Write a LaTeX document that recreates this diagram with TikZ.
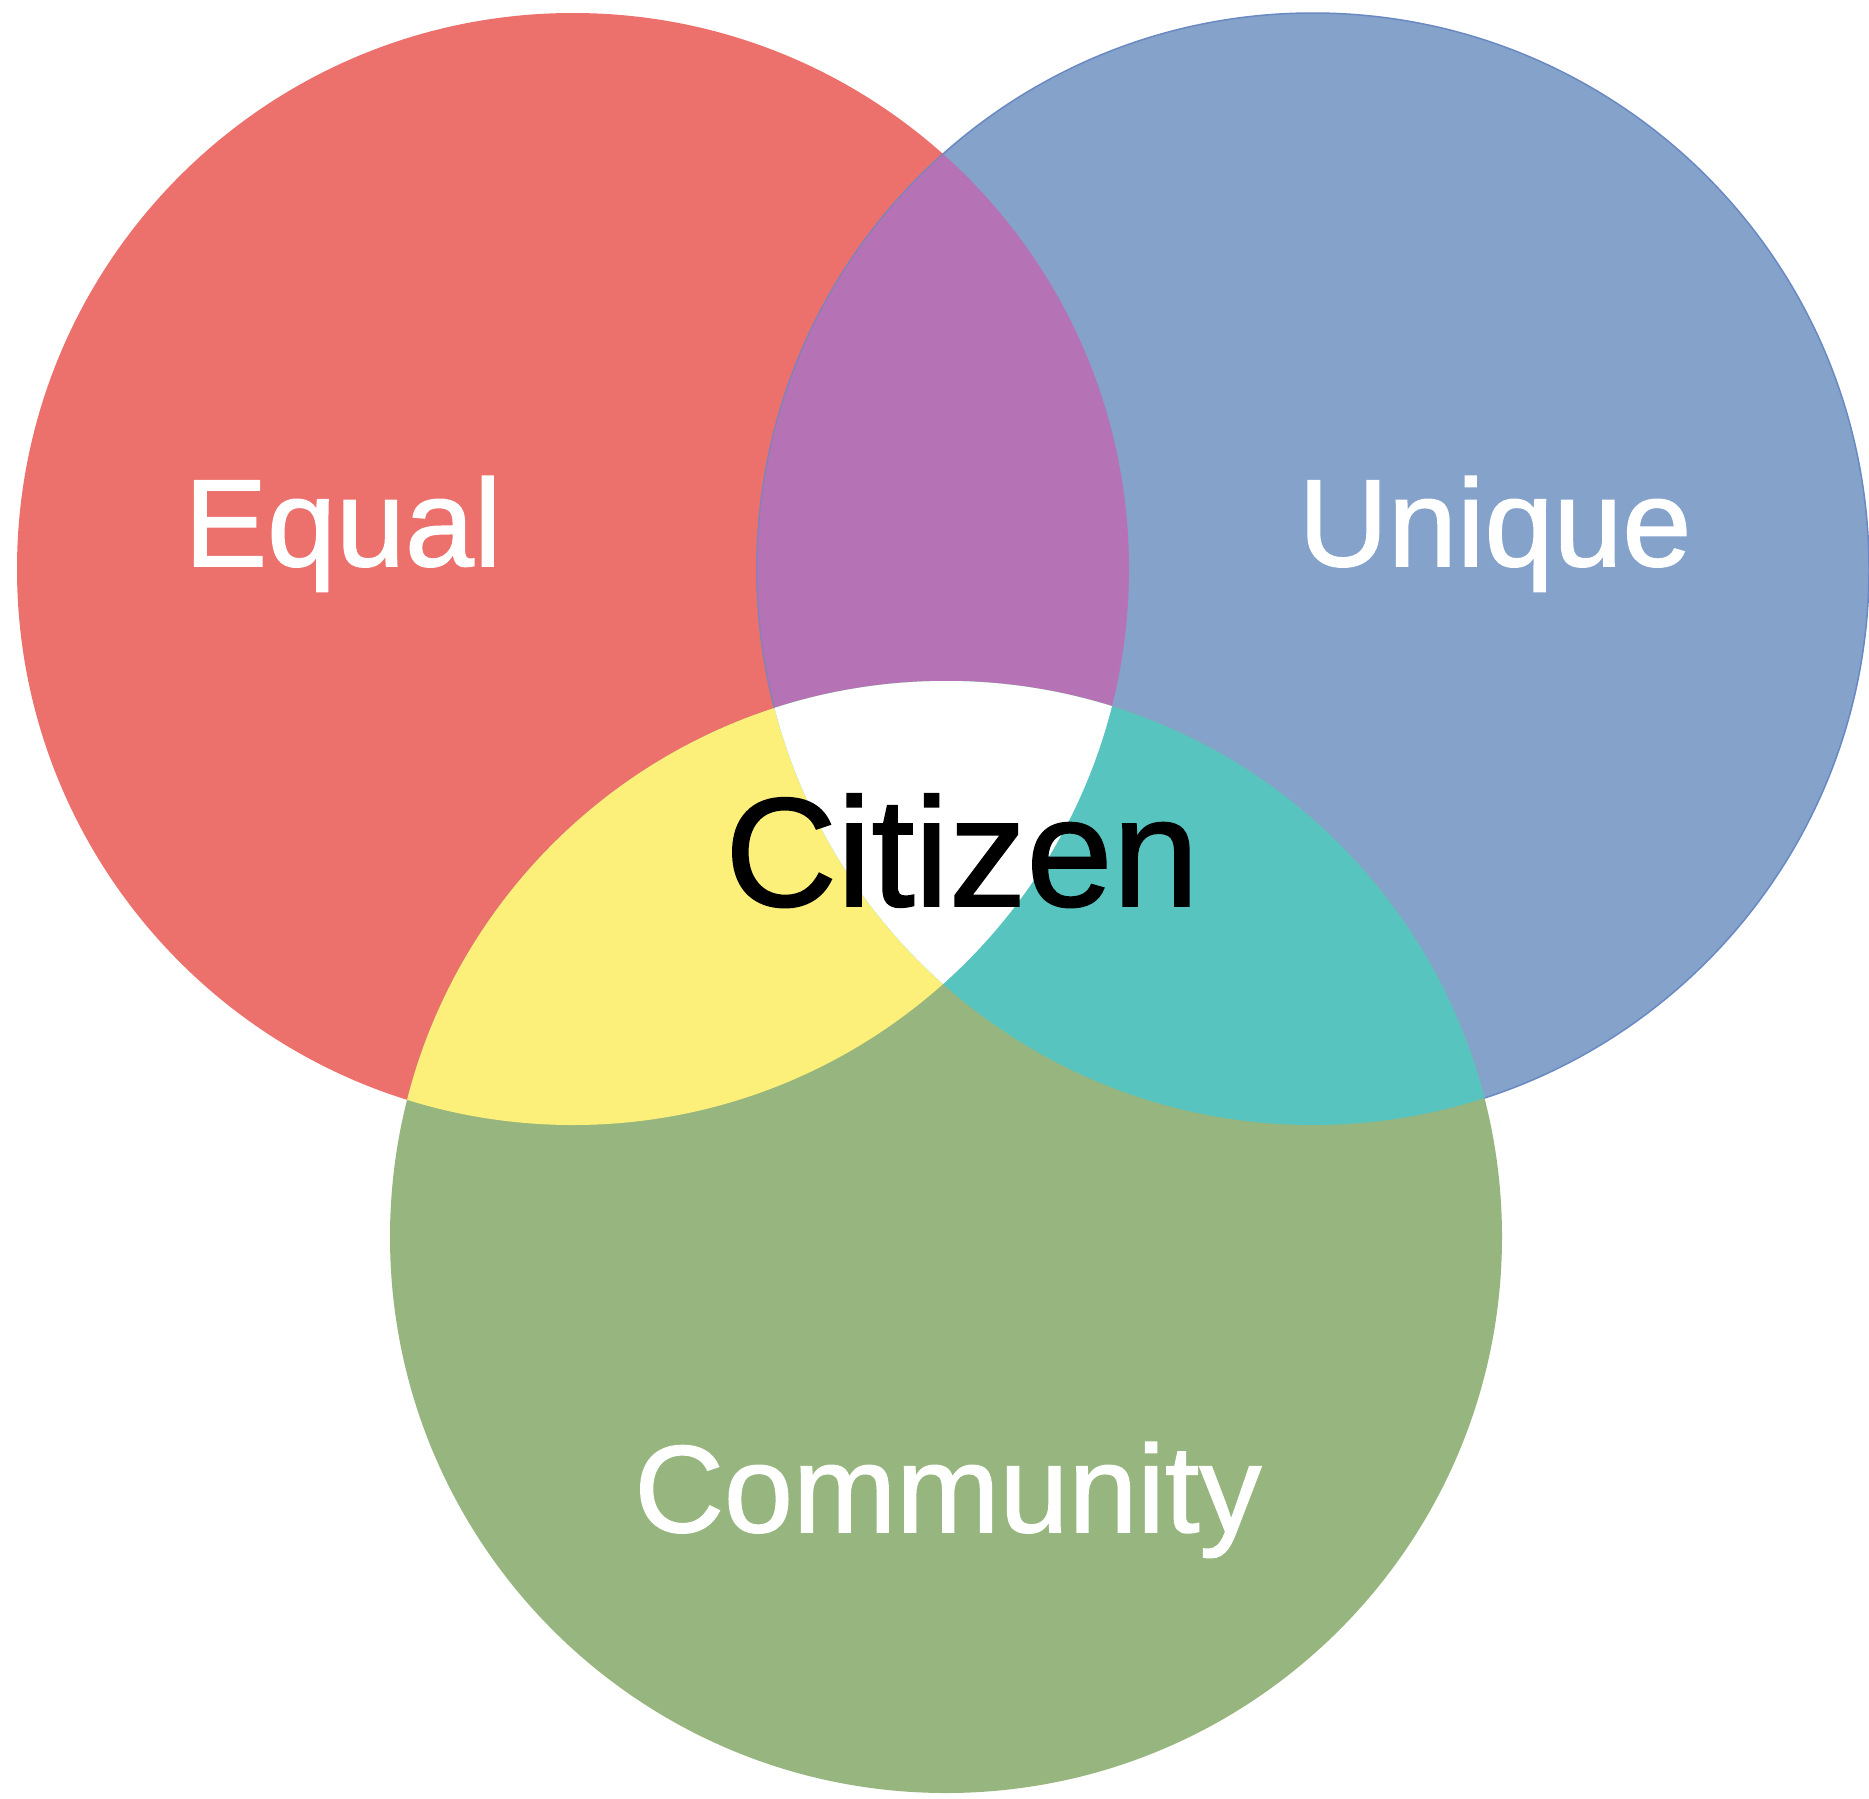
\documentclass[tikz,border=0pt]{standalone}
\usepackage{fontspec}
\setmainfont{Liberation Sans}
\newfontfamily\lblfont[FakeBold=1.2]{Liberation Sans}
\definecolor{cred}{HTML}{EC706C}
\definecolor{cblue}{HTML}{85A2CB}
\definecolor{cblueline}{HTML}{6A89C2}
\definecolor{cgreen}{HTML}{97B67F}
\definecolor{cpurple}{HTML}{B573B5}
\definecolor{cyellow}{HTML}{FCF07A}
\definecolor{cteal}{HTML}{57C4BF}
\tikzset{
  lbl/.style={anchor=base, inner sep=0pt, text=white, font=\lblfont\fontsize{124}{130}\selectfont},
  center lbl/.style={anchor=base, inner sep=0pt, text=black, font=\lblfont\fontsize{155}{160}\selectfont}
}
\def\R{556}
\begin{document}
\begin{tikzpicture}[x=1pt,y=-1pt]
\useasboundingbox (0,0) rectangle (1869,1799);
\coordinate (cr) at (573,569);
\coordinate (cb) at (1313,569);
\coordinate (cg) at (946,1237);
% base circles
\fill[cred] (cr) circle[radius=\R];
\fill[cblue] (cb) circle[radius=\R];
\draw[cblueline, line width=1.5pt] (cb) circle[radius=\R];
\fill[cgreen] (cg) circle[radius=\R];
% pairwise overlaps
\begin{scope}
  \clip (cr) circle[radius=\R];
  \fill[cpurple] (cb) circle[radius=\R];
  \draw[cblueline!70!cpurple, line width=1pt] (cb) circle[radius=\R];
\end{scope}
\begin{scope}
  \clip (cr) circle[radius=\R];
  \fill[cyellow] (cg) circle[radius=\R];
\end{scope}
\begin{scope}
  \clip (cb) circle[radius=\R];
  \fill[cteal] (cg) circle[radius=\R];
\end{scope}
\begin{scope}
  \clip (cr) circle[radius=\R];
  \clip (cb) circle[radius=\R];
  \fill[white] (cg) circle[radius=\R];
\end{scope}
% labels
\node[lbl] (equal) at (343,566) {Equal};
\node[lbl] (unique) at (1495,566) {Unique};
\node[lbl] (community) at (948,1532) {Community};
\node[center lbl] (citizen) at (962,906) {Citizen};
\end{tikzpicture}
\end{document}
